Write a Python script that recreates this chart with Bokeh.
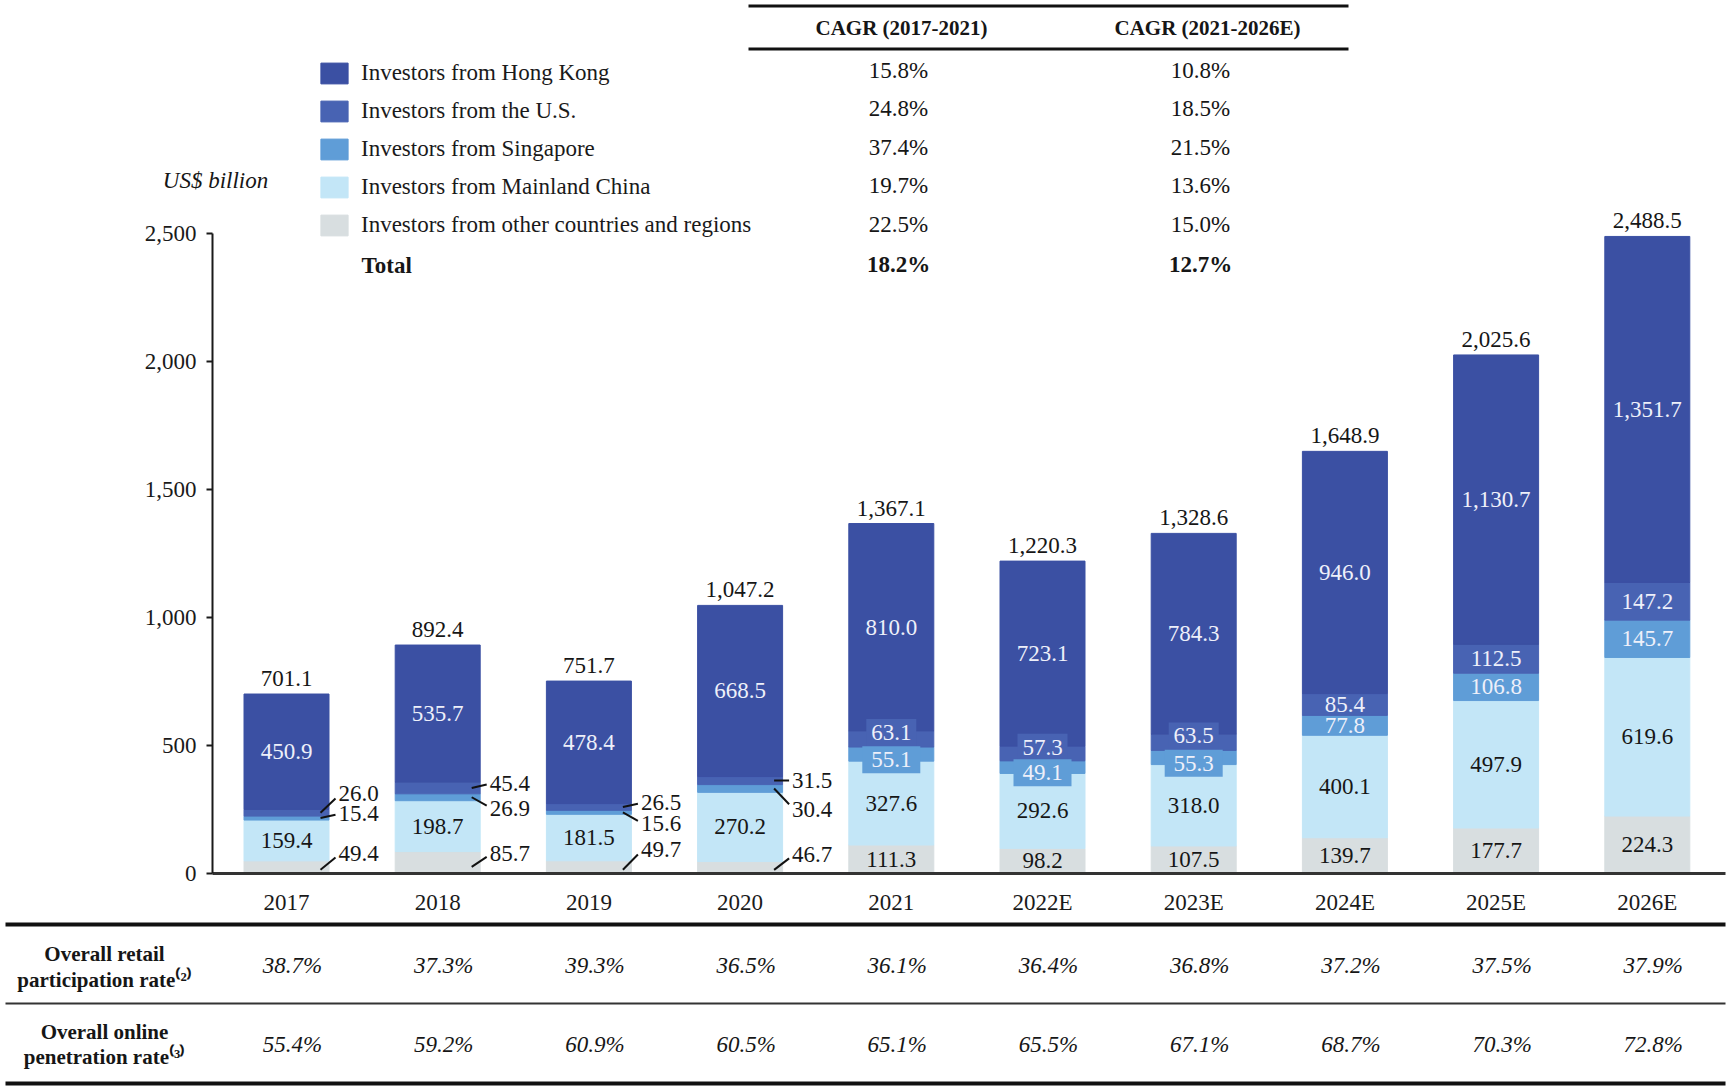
from bokeh.plotting import figure
from bokeh.models import (ColumnDataSource, Range1d, LabelSet, Label, Legend, LegendItem,
                          FixedTicker, NumeralTickFormatter)
from bokeh.core.properties import value
from bokeh.embed import file_html
from bokeh.resources import INLINE

# ---------------- data ----------------
years = ["2017", "2018", "2019", "2020", "2021", "2022E", "2023E", "2024E", "2025E", "2026E"]
other = [49.4, 85.7, 49.7, 46.7, 111.3, 98.2, 107.5, 139.7, 177.7, 224.3]
mainland = [159.4, 198.7, 181.5, 270.2, 327.6, 292.6, 318.0, 400.1, 497.9, 619.6]
singapore = [15.4, 26.9, 15.6, 30.4, 55.1, 49.1, 55.3, 77.8, 106.8, 145.7]
us = [26.0, 45.4, 26.5, 31.5, 63.1, 57.3, 63.5, 85.4, 112.5, 147.2]
hong_kong = [450.9, 535.7, 478.4, 668.5, 810.0, 723.1, 784.3, 946.0, 1130.7, 1351.7]
totals = [701.1, 892.4, 751.7, 1047.2, 1367.1, 1220.3, 1328.6, 1648.9, 2025.6, 2488.5]

series_names = ["Investors from Hong Kong", "Investors from the U.S.", "Investors from Singapore",
                "Investors from Mainland China", "Investors from other countries and regions"]
cagr_2017_2021 = ["15.8%", "24.8%", "37.4%", "19.7%", "22.5%", "18.2%"]
cagr_2021_2026 = ["10.8%", "18.5%", "21.5%", "13.6%", "15.0%", "12.7%"]
retail_rate = ["38.7%", "37.3%", "39.3%", "36.5%", "36.1%", "36.4%", "36.8%", "37.2%", "37.5%", "37.9%"]
online_rate = ["55.4%", "59.2%", "60.9%", "60.5%", "65.1%", "65.5%", "67.1%", "68.7%", "70.3%", "72.8%"]
y_ticks = [0, 500, 1000, 1500, 2000, 2500]

# ---------------- style / layout ----------------
C_HK, C_US, C_SG, C_CN, C_OT = "#3b50a3", "#4863b3", "#5f9dd7", "#c3e6f7", "#d8dee0"
SERIF = "Liberation Serif"
W, H = 1730, 1089
X0, STEP = 286.0, 151.2          # pixel centre of first bar, spacing
BASE, PPU = 873.0, 0.256          # pixel of zero, pixels per unit


def X(px):
    return (px - X0) / STEP


def Y(py):
    return (BASE - py) / PPU


p = figure(width=W, height=H, x_range=Range1d(X(0), X(W)), y_range=Range1d(Y(H), Y(0)),
           output_backend="svg", toolbar_location=None, min_border=0)
p.xgrid.visible = False
p.ygrid.visible = False
p.outline_line_color = None
p.background_fill_color = "white"

# axes
ya = p.yaxis[0]
ya.fixed_location = X(212)
ya.ticker = FixedTicker(ticks=y_ticks)
ya.formatter = NumeralTickFormatter(format="0,0")
ya.bounds = (0, 2500)
ya.major_tick_out = 6
ya.major_tick_in = 0
ya.minor_tick_line_color = None
ya.axis_line_width = 2
ya.axis_line_color = "#1a1a1a"
ya.major_tick_line_width = 2
ya.major_tick_line_color = "#1a1a1a"
ya.major_label_text_font = SERIF
ya.major_label_text_font_size = "23px"
ya.major_label_text_color = "#1a1a1a"
ya.major_label_standoff = 10

xa = p.xaxis[0]
xa.fixed_location = 0
xa.ticker = FixedTicker(ticks=list(range(len(years))))
xa.major_label_overrides = {i: yv for i, yv in enumerate(years)}
xa.bounds = (X(212), X(1725))
xa.major_tick_in = 0
xa.major_tick_out = 0
xa.minor_tick_line_color = None
xa.axis_line_width = 3
xa.axis_line_color = "#333333"
xa.major_label_text_font = SERIF
xa.major_label_text_font_size = "23px"
xa.major_label_text_color = "#1a1a1a"
xa.major_label_standoff = 16

# bars
n = len(years)
xs = list(range(n))
src = ColumnDataSource(dict(x=xs, other=other, mainland=mainland, singapore=singapore, us=us, hk=hong_kong))
rs = p.vbar_stack(["other", "mainland", "singapore", "us", "hk"], x="x", width=85 / STEP,
                  color=[C_OT, C_CN, C_SG, C_US, C_HK], line_color=[C_OT, C_CN, C_SG, C_US, C_HK],
                  source=src)

legend = Legend(items=[LegendItem(label=nm, renderers=[r]) for nm, r in zip(series_names, reversed(rs))],
                location=(317, H - 238), padding=0, margin=0, spacing=12,
                glyph_width=34, glyph_height=26, label_height=26, label_standoff=10,
                label_text_font=SERIF, label_text_font_size="23px", label_text_color="#1a1a1a",
                background_fill_alpha=0, border_line_alpha=0)
p.add_layout(legend)

# segment geometry computed from the data
b_cn = other
b_sg = [a + b for a, b in zip(other, mainland)]
b_us = [a + b for a, b in zip(b_sg, singapore)]
b_hk = [a + b for a, b in zip(b_us, us)]
mid_ot = [v / 2 for v in other]
mid_cn = [b + v / 2 for b, v in zip(b_cn, mainland)]
mid_sg = [b + v / 2 for b, v in zip(b_sg, singapore)]
mid_us = [b + v / 2 for b, v in zip(b_us, us)]
mid_hk = [b + v / 2 for b, v in zip(b_hk, hong_kong)]


def fmt(v):
    return f"{v:,.1f}"


def labels(x, y, txt, color, align="center", x_offset=0, y_offset=0, baseline="middle",
           style="normal", size="23px", font=SERIF):
    s = ColumnDataSource(dict(x=x, y=y, t=txt))
    ls = LabelSet(x="x", y="y", text="t", source=s, text_align=align, text_baseline=baseline,
                  text_color=color, text_font=value(font), text_font_size=size, text_font_style=style,
                  x_offset=x_offset, y_offset=y_offset)
    p.add_layout(ls)


DARK = "#161616"
LIGHT = "#eef0fa"

# totals above bars
labels(xs, totals, [fmt(v) for v in totals], DARK, baseline="bottom", y_offset=8)
# Hong Kong & Mainland segment labels
labels(xs, mid_hk, [fmt(v) for v in hong_kong], LIGHT)
labels(xs, mid_cn, [fmt(v) for v in mainland], DARK)
# other inside labels (2021 onwards)
inside = list(range(4, n))
labels(inside, [mid_ot[i] for i in inside], [fmt(other[i]) for i in inside], DARK)

# U.S. / Singapore inside labels: boxed ones 2021-2023E, plain ones afterwards
boxed = [4, 5, 6]
us_box_y = [mid_us[i] + 25 for i in boxed]
sg_box_y = [mid_sg[i] - 22 for i in boxed]
p.rect(x=boxed, y=us_box_y, width=50, height=27, width_units="screen", height_units="screen",
       fill_color=C_US, line_color=None)
p.rect(x=boxed, y=sg_box_y, width=58, height=27, width_units="screen", height_units="screen",
       fill_color=C_SG, line_color=None)
labels(boxed, us_box_y, [fmt(us[i]) for i in boxed], LIGHT)
labels(boxed, sg_box_y, [fmt(singapore[i]) for i in boxed], LIGHT)
plain = [7, 8, 9]
labels(plain, [mid_us[i] for i in plain], [fmt(us[i]) for i in plain], LIGHT)
labels(plain, [mid_sg[i] for i in plain], [fmt(singapore[i]) for i in plain], LIGHT)

# callouts 2017-2020 (label positions are layout, not data)
callout_idx = [0, 1, 2, 3]
us_lab_y = [312, 352, 277, 363]
sg_lab_y = [234, 254, 195, 250]
ot_lab_y = [78, 78, 94, 74]
lab_dx = 52 / STEP
line_x0 = 34 / STEP
line_x1 = 49 / STEP
for starts, labs, vals in [([mid_us[i] for i in callout_idx], us_lab_y, [us[i] for i in callout_idx]),
                           ([mid_sg[i] for i in callout_idx], sg_lab_y, [singapore[i] for i in callout_idx]),
                           ([other[i] * 0.3 for i in callout_idx], ot_lab_y, [other[i] for i in callout_idx])]:
    ends = [l + (s - l) * 0.25 for s, l in zip(starts, labs)]
    p.segment(x0=[i + line_x0 for i in callout_idx], y0=starts,
              x1=[i + line_x1 for i in callout_idx], y1=ends, line_color="#111111", line_width=2)
    labels([i + lab_dx for i in callout_idx], labs, [fmt(v) for v in vals], DARK, align="left")

# ---------------- top CAGR table ----------------
p.segment(x0=[X(748), X(748)], y0=[Y(5.5), Y(48.5)], x1=[X(1348), X(1348)], y1=[Y(5.5), Y(48.5)],
          line_color="#111111", line_width=3)
for txt, cx in [("CAGR (2017-2021)", 901), ("CAGR (2021-2026E)", 1207)]:
    p.add_layout(Label(x=X(cx), y=Y(27.5), text=txt, text_align="center", text_baseline="middle",
                       text_font=SERIF, text_font_size="21px", text_font_style="bold", text_color=DARK))
row_y = [70, 108, 147, 185, 224, 264]
for k, ry in enumerate(row_y):
    st = "bold" if k == len(row_y) - 1 else "normal"
    p.add_layout(Label(x=X(898), y=Y(ry), text=cagr_2017_2021[k], text_align="center", text_baseline="middle",
                       text_font=SERIF, text_font_size="23px", text_font_style=st, text_color=DARK))
    p.add_layout(Label(x=X(1200), y=Y(ry), text=cagr_2021_2026[k], text_align="center", text_baseline="middle",
                       text_font=SERIF, text_font_size="23px", text_font_style=st, text_color=DARK))
p.add_layout(Label(x=X(361), y=Y(265), text="Total", text_align="left", text_baseline="middle",
                   text_font=SERIF, text_font_size="23px", text_font_style="bold", text_color=DARK))
p.add_layout(Label(x=X(215), y=Y(180), text="US$ billion", text_align="center", text_baseline="middle",
                   text_font=SERIF, text_font_size="23px", text_font_style="italic", text_color=DARK))

# ---------------- bottom rate table ----------------
p.segment(x0=[X(5)] * 3, y0=[Y(924), Y(1003), Y(1083)], x1=[X(1725)] * 3, y1=[Y(924), Y(1003), Y(1083)],
          line_color=["#111111", "#333333", "#111111"], line_width=[4, 2, 4])
for txt, ry in [("Overall retail", 953), ("participation rate⁽²⁾", 979),
                ("Overall online", 1031), ("penetration rate⁽³⁾", 1056)]:
    p.add_layout(Label(x=X(104), y=Y(ry), text=txt, text_align="center", text_baseline="middle",
                       text_font=SERIF, text_font_size="21px", text_font_style="bold", text_color=DARK))
val_dx = 6 / STEP
labels([i + val_dx for i in xs], [Y(965)] * n, retail_rate, DARK, style="italic")
labels([i + val_dx for i in xs], [Y(1044)] * n, online_rate, DARK, style="italic")

open("out.html", "w").write(file_html(p, INLINE))
